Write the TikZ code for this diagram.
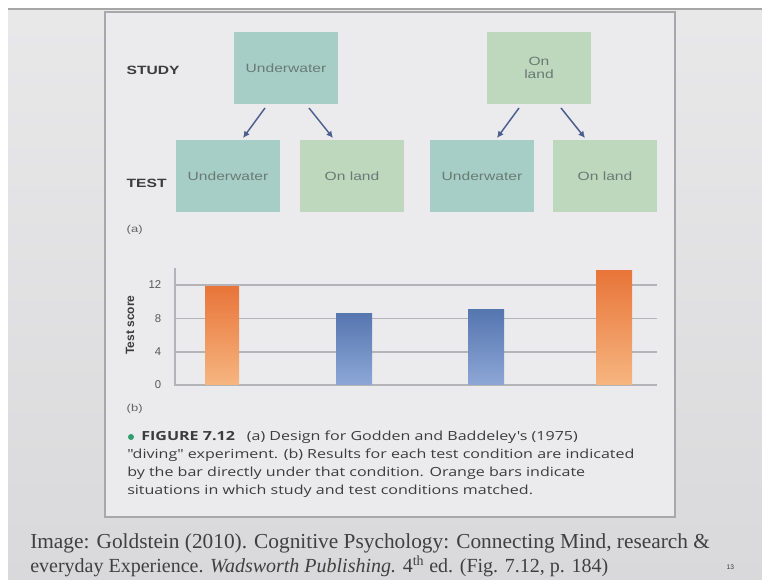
\documentclass[tikz,border=0pt]{standalone}
\usepackage{fontspec}
\setmainfont{Liberation Serif}
\setsansfont{Liberation Sans}
\newfontfamily\boxfont[FakeStretch=1.3]{Liberation Sans}
\newfontfamily\capfont[FakeStretch=1.28]{Open Sans}
\usetikzlibrary{arrows.meta}
\definecolor{pagebg}{HTML}{D9D9DB}
\definecolor{panelbg}{HTML}{EBEBED}
\definecolor{panelborder}{HTML}{A8A8AA}
\definecolor{water}{HTML}{A6CEC6}
\definecolor{land}{HTML}{BDD8BD}
\definecolor{arrowc}{HTML}{4D5F8E}
\definecolor{orangetop}{HTML}{E8753A}
\definecolor{orangebot}{HTML}{F6B57F}
\definecolor{bluetop}{HTML}{5676B0}
\definecolor{bluebot}{HTML}{8CA6D6}
\definecolor{gridc}{HTML}{B4B4B8}
\definecolor{txt}{HTML}{3C3C3C}
\definecolor{boxtxt}{HTML}{6A7A76}
\definecolor{bullet}{HTML}{2E9E6E}
\tikzset{
  condbox/.style={minimum width=78pt, minimum height=54pt, inner sep=1pt, font=\boxfont\fontsize{9}{10}\selectfont, text=boxtxt, align=center},
  rowlabel/.style={font=\boxfont\bfseries\fontsize{9}{10}\selectfont, text=txt, anchor=west},
  smalllab/.style={font=\boxfont\fontsize{7.5}{8}\selectfont, text=txt!80!white, anchor=west},
  flow/.style={draw=arrowc, line width=1.1pt, -{Latex[length=5pt,width=5pt]}},
  gridline/.style={draw=gridc, line width=1pt},
  ticklab/.style={font=\sffamily\fontsize{8.5}{9}\selectfont, text=txt!85!white, anchor=east},
  orangebar/.style={top color=orangetop, bottom color=orangebot, draw=none},
  bluebar/.style={top color=bluetop, bottom color=bluebot, draw=none},
  captext/.style={font=\capfont\fontsize{9.4}{13}\selectfont, text=txt, anchor=west, inner sep=0pt},
  citetext/.style={font=\fontsize{16}{20}\selectfont, text=black!75, anchor=west, inner sep=0pt}
}
\begin{document}
\begin{tikzpicture}[x=0.75pt,y=-0.75pt]
\useasboundingbox (0,0) rectangle (762,580);
% page
\fill[white] (0,0) rectangle (762,580);
\fill[top color=pagebg!60!white, bottom color=pagebg] (8,9) rectangle (762,580);
\draw[gray!70, line width=1pt] (8,9) -- (762,9);
% panel
\draw[fill=panelbg, draw=panelborder, line width=1.2pt] (105,12) rectangle (675,517);
% row labels
\node[rowlabel] (lstudy) at (122,70) {STUDY};
\node[rowlabel] (ltest) at (122,183) {TEST};
\node[smalllab] (la) at (122,230) {(a)};
% boxes
\node[condbox, fill=water] (su) at (286,68) {Underwater};
\node[condbox, fill=land] (sl) at (539,68) {On\\land};
\node[condbox, fill=water] (tu1) at (228,176) {Underwater};
\node[condbox, fill=land] (tl1) at (352,176) {On land};
\node[condbox, fill=water] (tu2) at (482,176) {Underwater};
\node[condbox, fill=land] (tl2) at (605,176) {On land};
% arrows
\coordinate (a1s) at (265,108); \coordinate (a1e) at (243,138);
\coordinate (a2s) at (309,108); \coordinate (a2e) at (333,138);
\coordinate (a3s) at (519,108); \coordinate (a3e) at (497,138);
\coordinate (a4s) at (561,108); \coordinate (a4e) at (585,138);
\draw[flow] (a1s) -- (a1e);
\draw[flow] (a2s) -- (a2e);
\draw[flow] (a3s) -- (a3e);
\draw[flow] (a4s) -- (a4e);
% chart
\coordinate (yaxtop) at (175,268);
\coordinate (yaxbot) at (175,386);
\draw[gridline] (yaxtop) -- (yaxbot);
\foreach \v/\y in {0/385,4/352,8/318.5,12/285} {
  \draw[gridline] (175,\y) -- (657,\y);
  \node[ticklab] at (166,\y) {\v};
}
\node[font=\sffamily\bfseries\fontsize{9}{10}\selectfont, text=txt, rotate=90] (ylab) at (130,325) {Test score};
\fill[orangebar] (205,287) rectangle (239,384);
\fill[bluebar] (336,313) rectangle (372,384);
\fill[bluebar] (468,310) rectangle (504,384);
\fill[orangebar] (596,271) rectangle (632,384);
\node[smalllab] (lb) at (122,409) {(b)};
% caption
\fill[bullet] (131,437) circle (3);
\node[captext] (c1) at (141,437) {\textbf{FIGURE 7.12}\hspace{9pt}(a) Design for Godden and Baddeley's (1975)};
\node[captext] (c2) at (127,455) {"diving" experiment. (b) Results for each test condition are indicated};
\node[captext] (c3) at (127,473) {by the bar directly under that condition. Orange bars indicate};
\node[captext] (c4) at (127,491) {situations in which study and test conditions matched.};
% citation
\node[citetext] (ct1) at (30,543) {Image: Goldstein (2010). Cognitive Psychology: Connecting Mind, research \&};
\node[citetext, font=\fontsize{15}{19}\selectfont] (ct2) at (30,566) {everyday Experience. \textit{Wadsworth Publishing.} 4\textsuperscript{th} ed. (Fig. 7.12, p. 184)};
\node[font=\sffamily\fontsize{5}{6}\selectfont, text=txt, anchor=west] (pg) at (722,567) {13};
\end{tikzpicture}
\end{document}
